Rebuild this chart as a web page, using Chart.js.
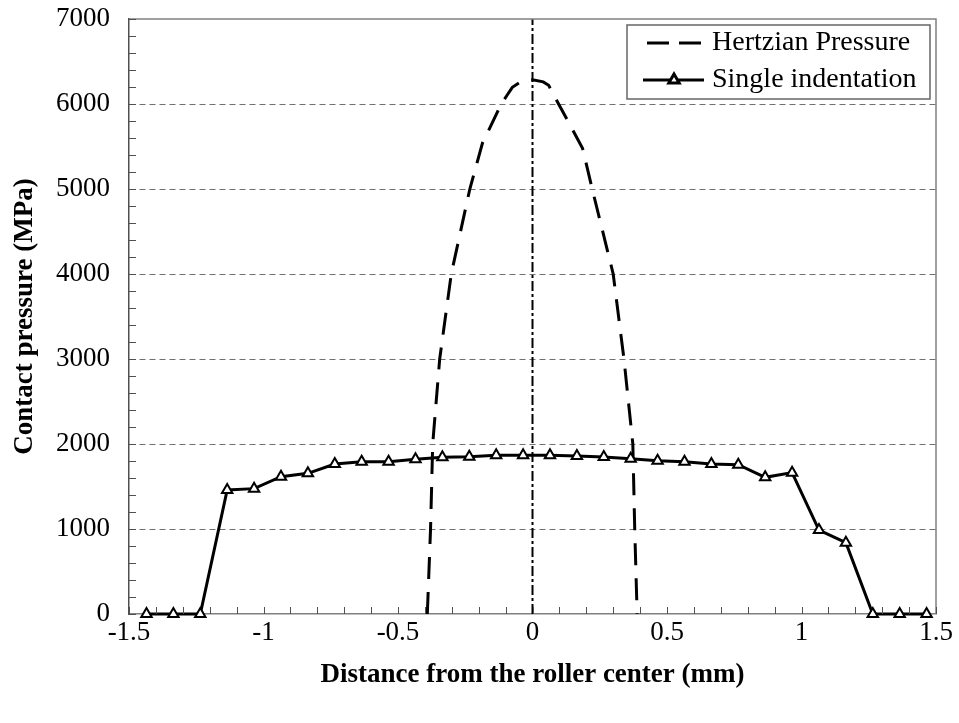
<!DOCTYPE html>
<html>
<head>
<meta charset="utf-8">
<script src="https://cdn.jsdelivr.net/npm/chart.js@4.4.1/dist/chart.umd.min.js"></script>
<style>
    html, body { margin: 0; padding: 0; background: #fff; }
    #wrap { width: 959px; height: 723px; }
</style>
</head>
<body>
<div id="wrap"><canvas id="pressureChart" width="959" height="723"></canvas></div>
<script>
// values
const singleX = [-1.435, -1.335, -1.235, -1.135, -1.035, -0.935, -0.835, -0.735, -0.635, -0.535,
                 -0.435, -0.335, -0.235, -0.135, -0.035, 0.065, 0.165, 0.265, 0.365, 0.465,
                 0.565, 0.665, 0.765, 0.865, 0.965, 1.065, 1.165, 1.265, 1.365, 1.465];
const singleY = [0, 0, 0, 1459, 1475, 1615, 1655, 1765, 1792, 1792,
                 1820, 1843, 1850, 1867, 1867, 1867, 1859, 1847, 1827, 1804,
                 1792, 1765, 1757, 1608, 1663, 988, 839, 0, 0, 0];

const hertzX = [-0.391, -0.379, -0.371, -0.345, -0.302, -0.233, -0.186, -0.116, -0.094, -0.075,
                -0.04, 0, 0.04, 0.06, 0.097, 0.14, 0.186, 0.222, 0.300, 0.340, 0.373, 0.380, 0.389];
const hertzY = [0, 1000, 2000, 3000, 4000, 5000, 5540, 6000, 6106, 6196,
                6270, 6285, 6260, 6220, 6000, 5750, 5480, 5000, 4000, 3000, 2000, 1000, 0];

const centerX = [0, 0];
const centerY = [0, 7000];

const xTickValues = [-1.5, -1, -0.5, 0, 0.5, 1, 1.5];
const yTickValues = [0, 1000, 2000, 3000, 4000, 5000, 6000, 7000];
const legendLabels = ['Hertzian Pressure', 'Single indentation'];

const serif = "'Liberation Serif', 'Times New Roman', serif";

function toPoints(xs, ys) {
    return xs.map((x, i) => ({ x: x, y: ys[i] }));
}

const decorations = {
    id: 'decorations',
    afterDatasetsDraw(chart) {
        const { ctx, chartArea: a, scales: { x, y } } = chart;
        ctx.save();

        // grey frame on top and right
        ctx.strokeStyle = '#808080';
        ctx.lineWidth = 1.5;
        ctx.beginPath();
        ctx.moveTo(a.left, a.top);
        ctx.lineTo(a.right, a.top);
        ctx.lineTo(a.right, a.bottom);
        ctx.stroke();

        // inward tick marks
        ctx.strokeStyle = '#505050';
        ctx.lineWidth = 1;
        ctx.beginPath();
        for (let v = 0; v <= 7000; v += 200) {
            const py = Math.round(y.getPixelForValue(v)) + 0.5;
            ctx.moveTo(a.left, py);
            ctx.lineTo(a.left + 7, py);
        }
        for (let i = -15; i <= 15; i++) {
            const px = Math.round(x.getPixelForValue(i / 10)) + 0.5;
            ctx.moveTo(px, a.bottom);
            ctx.lineTo(px, a.bottom - 7);
        }
        ctx.stroke();

        // legend
        ctx.fillStyle = '#fff';
        ctx.strokeStyle = '#666';
        ctx.lineWidth = 1.5;
        ctx.fillRect(627, 25, 303, 74);
        ctx.strokeRect(627, 25, 303, 74);

        ctx.strokeStyle = '#000';
        ctx.lineWidth = 3;
        ctx.setLineDash([22, 10]);
        ctx.beginPath();
        ctx.moveTo(647, 43);
        ctx.lineTo(702, 43);
        ctx.stroke();
        ctx.setLineDash([]);
        ctx.beginPath();
        ctx.moveTo(643, 80);
        ctx.lineTo(704, 80);
        ctx.stroke();
        ctx.fillStyle = '#fff';
        ctx.strokeStyle = '#000';
        Chart.helpers.drawPoint(ctx, { pointStyle: 'triangle', radius: 6, borderWidth: 2, rotation: 0 }, 674, 80);

        ctx.fillStyle = '#000';
        ctx.font = '28px ' + serif;
        ctx.textBaseline = 'middle';
        ctx.textAlign = 'left';
        ctx.fillText(legendLabels[0], 712, 43);
        ctx.fillText(legendLabels[1], 712, 80);

        ctx.restore();
    }
};

new Chart(document.getElementById('pressureChart'), {
    type: 'scatter',
    data: {
        datasets: [
            {
                label: legendLabels[1],
                data: toPoints(singleX, singleY),
                showLine: true,
                borderColor: '#000',
                borderWidth: 3,
                pointStyle: 'triangle',
                pointRadius: 6,
                pointBorderWidth: 2,
                pointBackgroundColor: '#fff',
                pointBorderColor: '#000',
                clip: false
            },
            {
                label: legendLabels[0],
                data: toPoints(hertzX, hertzY),
                showLine: true,
                borderColor: '#000',
                borderWidth: 3,
                borderDash: [22, 13],
                pointRadius: 0
            },
            {
                label: 'center',
                data: toPoints(centerX, centerY),
                showLine: true,
                borderColor: '#000',
                borderWidth: 2,
                borderDash: [10, 3, 3, 3],
                pointRadius: 0
            }
        ]
    },
    options: {
        responsive: false,
        animation: false,
        layout: { padding: { top: 19, right: 23, left: 0, bottom: 0 } },
        plugins: { legend: { display: false }, tooltip: { enabled: false } },
        scales: {
            x: {
                type: 'linear',
                min: -1.5,
                max: 1.5,
                afterBuildTicks: s => { s.ticks = xTickValues.map(v => ({ value: v })); },
                afterFit: s => { s.height = 109; },
                grid: { display: false, drawTicks: false },
                border: { display: true, color: '#808080', width: 1.5 },
                ticks: {
                    color: '#000',
                    font: { family: serif, size: 27 },
                    padding: 3,
                    maxRotation: 0,
                    callback: v => String(v)
                },
                title: {
                    display: true,
                    text: 'Distance from the roller center (mm)',
                    color: '#000',
                    font: { family: serif, size: 27, weight: 'bold' },
                    padding: 32
                }
            },
            y: {
                type: 'linear',
                min: 0,
                max: 7000,
                afterBuildTicks: s => { s.ticks = yTickValues.map(v => ({ value: v })); },
                afterFit: s => {
                    s.width = 129;
                    s.paddingTop = 0;
                    s.paddingBottom = 0;
                },
                grid: {
                    color: c => (c.tick && (c.tick.value === 0 || c.tick.value === 7000)) ? 'rgba(0,0,0,0)' : '#707070',
                    lineWidth: 1,
                    drawTicks: false
                },
                border: { display: true, color: '#505050', width: 1.5, dash: [6, 4] },
                ticks: {
                    color: '#000',
                    font: { family: serif, size: 27 },
                    padding: 19,
                    callback: v => String(v)
                },
                title: {
                    display: true,
                    text: 'Contact pressure (MPa)',
                    color: '#000',
                    font: { family: serif, size: 27, weight: 'bold' },
                    padding: 9
                }
            }
        }
    },
    plugins: [decorations]
});
</script>
</body>
</html>
